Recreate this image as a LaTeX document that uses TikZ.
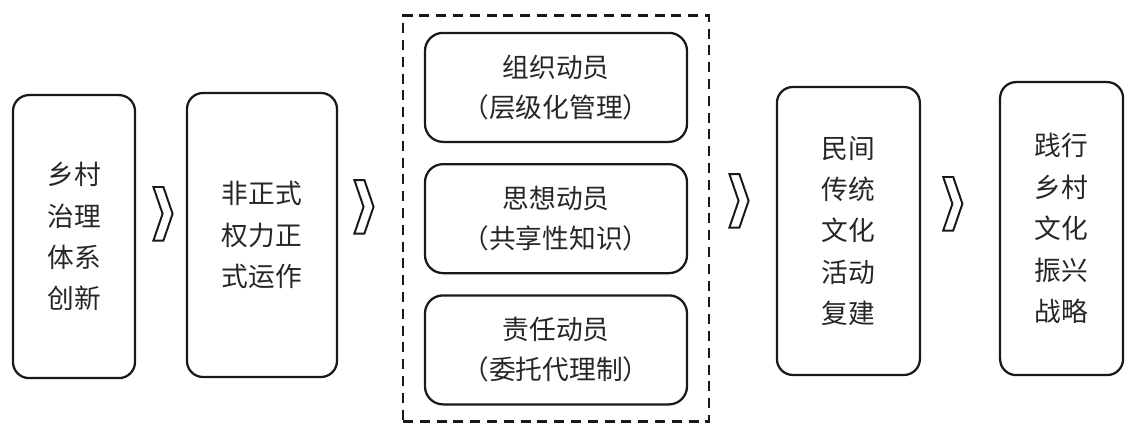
\documentclass[tikz,border=0pt]{standalone}
\usepackage{fontspec}
\newfontfamily\cjk{Noto Sans CJK SC}
\usetikzlibrary{positioning,fit,calc}

\begin{document}
\begin{tikzpicture}[
  stagebox/.style={draw=black!90, line width=1.6pt, rounded corners=0.4cm, align=center,
                   font=\cjk\fontsize{19}{29.5}\selectfont, text=black!85, inner sep=0pt},
  mobbox/.style={stagebox, rounded corners=0.45cm, minimum width=6.55cm, minimum height=2.725cm,
                 font=\cjk\fontsize{19}{28.5}\selectfont},
  frame/.style={draw=black!90, line width=1.8pt, dash pattern=on 0.25cm off 0.17cm,
                inner xsep=0.52cm, inner ysep=0.4cm},
  chevron/.pic={\draw[black!90, line width=1.4pt, line join=miter]
                (-0.24,0.67) -- (0.01,0.67) -- (0.24,0) -- (0.01,-0.67)
                -- (-0.24,-0.67) -- (-0.01,0) -- cycle;}]
\useasboundingbox (0,0) rectangle (28.35,10.575);
% main stages
\node[stagebox, minimum width=3.05cm, minimum height=7.075cm] (rural) at (1.85,4.66) {乡村\\治理\\体系\\创新};
\node[stagebox, minimum width=3.75cm, minimum height=7.1cm] (informal) at (6.55,4.7) {非正式\\权力正\\式运作};
% three kinds of mobilisation
\node[mobbox] (org) at (13.9,8.39) {组织动员\\（层级化管理）};
\node[mobbox, below=0.5cm of org] (idea) {思想动员\\（共享性知识）};
\node[mobbox, below=0.5cm of idea] (duty) {责任动员\\（委托代理制）};
\node[frame, fit=(org)(duty)] (mobil) {};
\node[stagebox, minimum width=3.575cm, minimum height=7.2cm] (folk) at (21.21,4.8) {民间\\传统\\文化\\活动\\复建};
\node[stagebox, minimum width=3.075cm, minimum height=7.325cm] (revive) at (26.54,4.86) {践行\\乡村\\文化\\振兴\\战略};
% chevrons between the stages
\path ($(rural.east)!0.5!(informal.west)$) ++(0.05,0.55) pic {chevron};
\path ($(informal.east)!0.5!(mobil.west)$) ++(-0.15,0.5) pic {chevron};
\path ($(mobil.east)!0.5!(folk.west)$) ++(-0.1,0.6) pic {chevron};
\path ($(folk.east)!0.5!(revive.west)$) ++(-0.18,0.65) pic {chevron};
\end{tikzpicture}
\end{document}
